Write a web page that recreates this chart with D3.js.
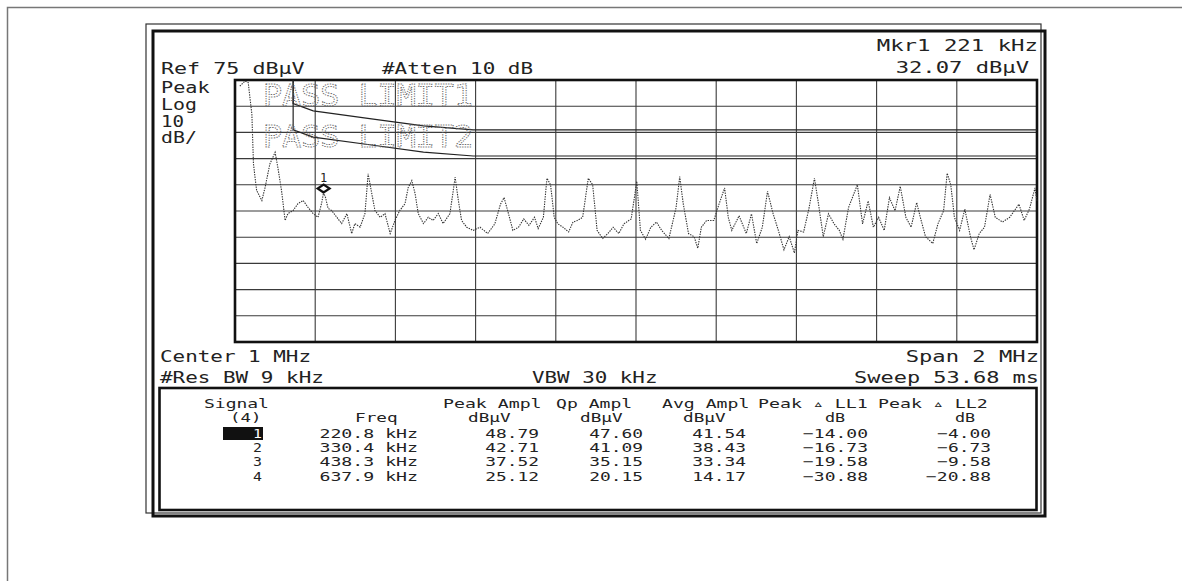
<!DOCTYPE html>
<html>
<head>
<meta charset="utf-8">
<script src="https://cdn.jsdelivr.net/npm/d3@7"></script>
<style>
	body { margin: 0; background: #fff; }
	svg { display: block; }
	.scr { font-family: "DejaVu Sans Mono", monospace; fill: #222; }
</style>
</head>
<body>
<svg id="screen" width="1182" height="581"></svg>
<script>

	// trace, frequency in kHz and level in dBuV
	var traceFreq = [ 12, 25, 33, 42, 46, 54, 67, 75, 87, 100, 107, 116, 125, 132, 145, 157, 170, 182, 195, 207,
			216, 221, 226, 232, 241, 254, 266, 279, 291, 299, 312, 324, 332, 341, 349, 362, 374, 387, 399, 411,
			424, 432, 441, 449, 457, 470, 482, 494, 507, 519, 536, 549, 557, 565, 578, 594, 611, 630, 648, 662,
			671, 680, 693, 707, 720, 733, 747, 756, 769, 778, 787, 796, 805, 818, 832, 843, 854, 867, 881, 892,
			903, 917, 930, 943, 957, 970, 988, 1002, 1011, 1024, 1037, 1051, 1064, 1082, 1100, 1109, 1118, 1131,
			1145, 1154, 1163, 1176, 1194, 1207, 1221, 1230, 1239, 1257, 1275, 1288, 1301, 1315, 1328, 1342, 1355,
			1369, 1382, 1395, 1404, 1418, 1431, 1445, 1454, 1467, 1480, 1494, 1507, 1516, 1530, 1552, 1565, 1579,
			1592, 1605, 1619, 1632, 1646, 1659, 1673, 1686, 1700, 1709, 1722, 1740, 1753, 1767, 1776, 1785, 1794,
			1807, 1820, 1834, 1843, 1856, 1869, 1883, 1896, 1914, 1932, 1955, 1968, 1981, 1995, 2000 ];
	var traceLevel = [ 72.7, 74.6, 74, 62, 43, 32.8, 29, 34, 43, 47.4, 41.5, 32.8, 21.4, 24, 25.2, 27.8, 29, 26.4, 24, 22.6,
			28, 32.1, 30, 26, 25.2, 22.6, 20.2, 24, 16.4, 20.2, 18.8, 24, 39.2, 31.7, 25.2, 22.6, 24, 16.4, 21.4, 25.2,
			27.8, 34, 36.6, 31.7, 24, 20.2, 22.6, 21.4, 24, 20.2, 24, 37.9, 29, 21.4, 18.8, 17.6, 18.8, 16.4, 20.1, 27.6,
			30.1, 25.1, 17.6, 18.8, 22, 19.5, 22.6, 18.3, 22.6, 37.5, 35, 22.6, 20.1, 18.8, 17, 20.8, 21.4, 22.6, 37.5, 35,
			17.6, 14.5, 16.4, 18.8, 16.4, 20.1, 22, 36.3, 17.6, 14.2, 18.8, 20.8, 17.6, 14.5, 26.3, 38.1, 27.6, 16.4,
			15.2, 10.8, 18.8, 21.4, 21.4, 27.6, 33.8, 22.6, 17.6, 23.2, 16.4, 23.9, 12.6, 18.8, 32.5, 23.9, 17.6,
			10.2, 15.2, 9, 17.6, 17, 25.7, 37.5, 28.8, 15.2, 23.9, 20.1, 17.6, 14.2, 26.3, 35, 20.1, 28.8,
			18.8, 22.6, 17.6, 30.1, 25.1, 34.4, 22.6, 18.8, 28.2, 22.6, 15.2, 12.6, 20.1, 25.1, 39.4, 35, 22.6,
			17.6, 25.7, 15.2, 10.2, 16.4, 18.8, 31.3, 22.6, 20.8, 22.6, 27.6, 21.4, 25.7, 33.8, 28.8 ];

	// limit lines
	var limit1Freq = [ 145, 145, 195, 345, 470, 594, 2000 ];
	var limit1Level = [ 75, 66, 63.2, 60.1, 57.5, 56, 56 ];
	var limit2Freq = [ 145, 145, 195, 345, 470, 594, 2000 ];
	var limit2Level = [ 75, 56, 53.2, 50.1, 47.5, 46, 46 ];

	var markerFreq = 221;
	var markerLevel = 32.07;

	// signal list
	var signalIds = [ "1", "2", "3", "4" ];
	var signalFreqs = [ "220.8 kHz", "330.4 kHz", "438.3 kHz", "637.9 kHz" ];
	var peakAmpl = [ 48.79, 42.71, 37.52, 25.12 ];
	var qpAmpl = [ 47.60, 41.09, 35.15, 20.15 ];
	var avgAmpl = [ 41.54, 38.43, 33.34, 14.17 ];
	var peakLL1 = [ -14.00, -16.73, -19.58, -30.88 ];
	var peakLL2 = [ -4.00, -6.73, -9.58, -20.88 ];

	var svg = d3.select("#screen");
	var gx0 = 235, gx1 = 1037, gy0 = 80, gy1 = 342;

	var x = d3.scaleLinear().domain([ 0, 2000 ]).range([ gx0, gx1 ]);
	var y = d3.scaleLinear().domain([ -25, 75 ]).range([ gy1, gy0 ]);

	// screen font is wide, so glyphs get stretched to the cell pitch
	var text = function(str, px, py, opts) {
		opts = opts || {};
		var adv = opts.adv || 12.8;
		return svg.append("text").attr("class", "scr")//
		.attr("x", px).attr("y", py)//
		.attr("font-size", opts.size || 15)//
		.attr("text-anchor", opts.anchor || "start")//
		.attr("textLength", str.length * adv - adv * 0.2)//
		.attr("lengthAdjust", "spacingAndGlyphs")//
		.text(str);
	};

	// paper frame and instrument frame
	svg.append("path").attr("d", "M7.5,581V7.5H1182").attr("fill", "none").attr("stroke", "#777").attr("stroke-width", 1.5);
	svg.append("rect").attr("x", 146).attr("y", 24).attr("width", 895).attr("height", 489)//
	.attr("fill", "none").attr("stroke", "#333").attr("stroke-width", 1.2);
	svg.append("rect").attr("x", 153).attr("y", 31).attr("width", 892).attr("height", 485)//
	.attr("fill", "none").attr("stroke", "#111").attr("stroke-width", 3);

	// graticule
	var grid = svg.append("g");
	grid.selectAll(".vline").data(d3.range(200, 2000, 200)).enter().append("line")//
	.attr("x1", function(d) { return x(d); }).attr("x2", function(d) { return x(d); })//
	.attr("y1", gy0).attr("y2", gy1).attr("stroke", "#3a3a3a").attr("stroke-width", 1.1);
	grid.selectAll(".hline").data(d3.range(65, -25, -10)).enter().append("line")//
	.attr("y1", function(d) { return y(d); }).attr("y2", function(d) { return y(d); })//
	.attr("x1", gx0).attr("x2", gx1).attr("stroke", "#3a3a3a").attr("stroke-width", 1.1);
	grid.append("rect").attr("x", gx0).attr("y", gy0).attr("width", gx1 - gx0).attr("height", gy1 - gy0)//
	.attr("fill", "none").attr("stroke", "#111").attr("stroke-width", 2.6);

	// limit lines with their pass labels
	var limitLine = d3.line()//
	.x(function(d) { return x(d[0]); })//
	.y(function(d) { return y(d[1]); });
	[ [ limit1Freq, limit1Level ], [ limit2Freq, limit2Level ] ].forEach(function(l) {
		svg.append("path").datum(d3.zip(l[0], l[1])).attr("d", limitLine)//
		.attr("fill", "none").attr("stroke", "#222").attr("stroke-width", 1.2);
	});
	[ [ "PASS LIMIT1", 106 ], [ "PASS LIMIT2", 147 ] ].forEach(function(p) {
		svg.append("text").attr("x", 263).attr("y", p[1])//
		.attr("font-family", "DejaVu Sans Mono").attr("font-size", 30)//
		.attr("textLength", 210).attr("lengthAdjust", "spacingAndGlyphs")//
		.attr("fill", "none").attr("stroke", "#666").attr("stroke-width", 1)//
		.attr("stroke-dasharray", "1.2,1.2").text(p[0]);
	});

	// trace
	var traceLine = d3.line()//
	.x(function(d) { return x(d[0]); })//
	.y(function(d) { return y(d[1]); });
	svg.append("path").datum(d3.zip(traceFreq, traceLevel)).attr("d", traceLine)//
	.attr("fill", "none").attr("stroke", "#333").attr("stroke-width", 1.1)//
	.attr("stroke-dasharray", "1.4,1.1");

	// marker 1, diamond sits on the point
	var mx = x(markerFreq), my = y(markerLevel);
	svg.append("path").attr("d", "M" + mx + "," + my + "l-6,-4l6,-4l6,4z")//
	.attr("fill", "none").attr("stroke", "#111").attr("stroke-width", 2.2);
	text("1", mx, my - 10, { size: 12, adv: 9, anchor: "middle" });

	// annotations
	text("Ref 75 dB\u00b5V", 161, 74, { adv: 13.3 });
	text("#Atten 10 dB", 382, 74);
	text("Mkr1  221 kHz", 1038, 51, { adv: 12.6, anchor: "end" });
	text("32.07 dB\u00b5V", 1029, 73, { adv: 13.6, anchor: "end" });
	[ "Peak", "Log", "10", "dB/" ].forEach(function(s, i) {
		text(s, 161, 93 + i * 16.8);
	});
	text("Center 1 MHz", 160, 362);
	text("Span 2 MHz", 1039, 362, { adv: 13.6, anchor: "end" });
	text("#Res BW 9 kHz", 160, 383);
	text("VBW 30 kHz", 532, 383);
	text("Sweep 53.68 ms", 1039, 383, { adv: 13.4, anchor: "end" });

	// signal list box
	svg.append("rect").attr("x", 159.5).attr("y", 388).attr("width", 877).attr("height", 122)//
	.attr("fill", "none").attr("stroke", "#111").attr("stroke-width", 2.6);

	var tOpts = { size: 13, adv: 11.2 };
	text("Signal", 204, 408, tOpts);
	text("(4)", 230, 422, tOpts);
	text("Freq", 355, 422, tOpts);
	text("Peak Ampl", 443, 408, tOpts);
	text("dB\u00b5V", 468, 422, tOpts);
	text("Qp Ampl", 556, 408, tOpts);
	text("dB\u00b5V", 580, 422, tOpts);
	text("Avg Ampl", 662, 408, tOpts);
	text("dB\u00b5V", 683, 422, tOpts);
	text("Peak \u25b5 LL1", 758, 408, tOpts);
	text("dB", 825, 422, tOpts);
	text("Peak \u25b5 LL2", 878, 408, tOpts);
	text("dB", 955, 422, tOpts);

	var f2 = d3.format(".2f");
	var rOpts = { size: 13, adv: 11.2, anchor: "end" };
	svg.append("rect").attr("x", 223).attr("y", 427).attr("width", 40).attr("height", 13).attr("fill", "#111");
	signalIds.forEach(function(id, i) {
		var ry = 438 + i * 14.2;
		text(id, 262, ry, rOpts).style("fill", i == 0 ? "#fff" : "#222");
		text(signalFreqs[i], 418, ry, rOpts);
		text(f2(peakAmpl[i]), 539, ry, rOpts);
		text(f2(qpAmpl[i]), 643, ry, rOpts);
		text(f2(avgAmpl[i]), 746, ry, rOpts);
		text(f2(peakLL1[i]), 868, ry, rOpts);
		text(f2(peakLL2[i]), 991, ry, rOpts);
	});

</script>
</body>
</html>
